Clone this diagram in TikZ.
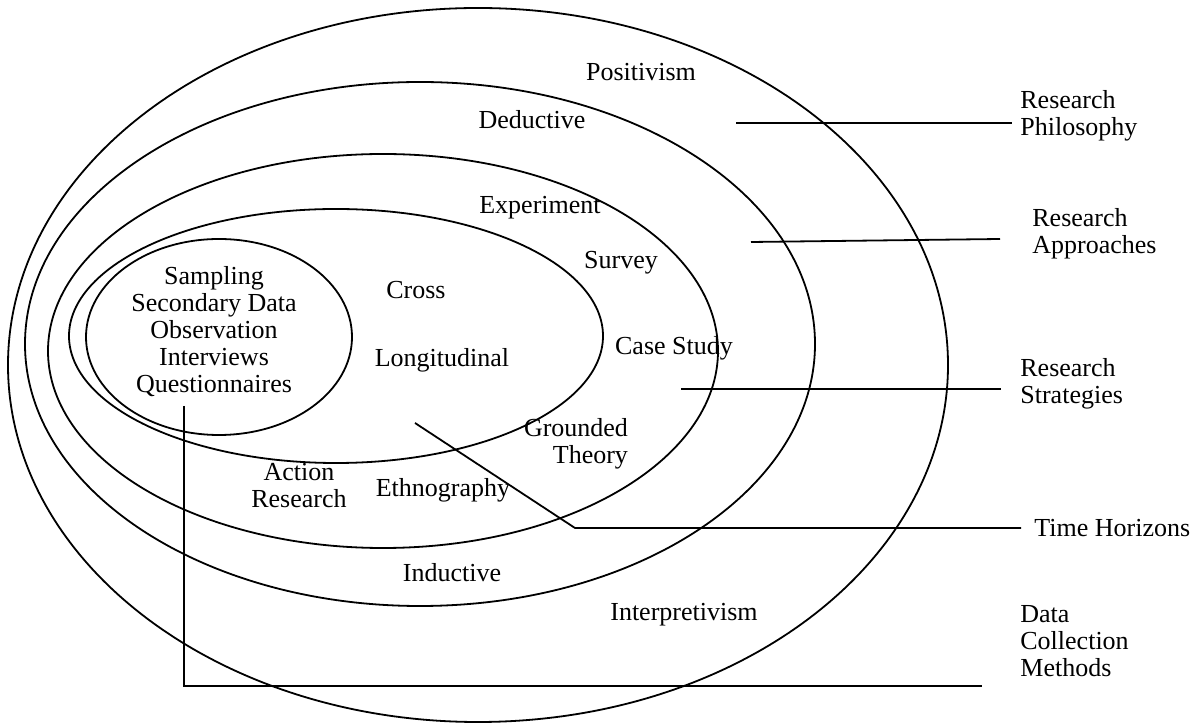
\documentclass[tikz,border=0pt]{standalone}
\usepackage{fontspec}
\setmainfont{Liberation Serif}
\usepackage{tikz}
\usetikzlibrary{positioning}

\begin{document}
\begin{tikzpicture}[x=0.5pt,y=-0.5pt,
	ring/.style={draw,line width=0.9pt},
	link/.style={draw,line width=0.9pt},
	word/.style={inner sep=0pt,align=center,font=\fontsize{13}{13.5}\selectfont},
	side/.style={word,anchor=west,align=left}]
\useasboundingbox (0,0) rectangle (1201,726);
% the onion rings, outside in
\draw [ring] (478,365) circle [x radius=470,y radius=357];
\draw [ring] (420,344) circle [x radius=395,y radius=262];
\draw [ring] (383,351) circle [x radius=335,y radius=197];
\draw [ring] (336,336) circle [x radius=267,y radius=127];
\draw [ring] (219,337) circle [x radius=133,y radius=98];
% words inside
\node [word] (pos) at (641,72) {Positivism};
\node [word] (ded) at (532,120) {Deductive};
\node [word] (exp) at (540,208) {Experiment};
\node [word] (sur) at (621,263) {Survey};
\node [word] (cro) at (416,290) {Cross};
\node [word] (lon) at (442,360) {Longitudinal};
\node [word] (cas) at (674,348) {Case Study};
\node [word] (dat) at (214,332) {Sampling\\Secondary Data\\Observation\\Interviews\\Questionnaires};
\node [word,align=right] (gro) at (576,444) {Grounded\\Theory};
\node [word] (act) at (299,486) {Action\\Research};
\node [word] (eth) at (443,490) {Ethnography};
\node [word] (ind) at (452,573) {Inductive};
\node [word] (int) at (684,615) {Interpretivism};
% names on the right
\node [side] (phil) at (1020,116) {Research\\Philosophy};
\node [side] (appr) at (1032,234) {Research\\Approaches};
\node [side] (stra) at (1020,384) {Research\\Strategies};
\node [side] (time) at (1034,528) {Time Horizons};
\node [side] (meth) at (1020,641) {Data\\Collection\\Methods};
% leader lines
\coordinate (phil-a) at (736,123);
\coordinate (phil-b) at (1012,123);
\coordinate (appr-a) at (751,242);
\coordinate (appr-b) at (1000,239);
\coordinate (stra-a) at (681,389);
\coordinate (stra-b) at (1001,389);
\coordinate (time-a) at (415,423);
\coordinate (time-k) at (575,528);
\coordinate (time-b) at (1021,528);
\coordinate (meth-a) at (184,406);
\coordinate (meth-k) at (184,686);
\coordinate (meth-b) at (982,686);
\draw [link] (phil-a) -- (phil-b);
\draw [link] (appr-a) -- (appr-b);
\draw [link] (stra-a) -- (stra-b);
\draw [link] (time-a) -- (time-k) -- (time-b);
\draw [link] (meth-a) -- (meth-k) -- (meth-b);
\end{tikzpicture}
\end{document}
